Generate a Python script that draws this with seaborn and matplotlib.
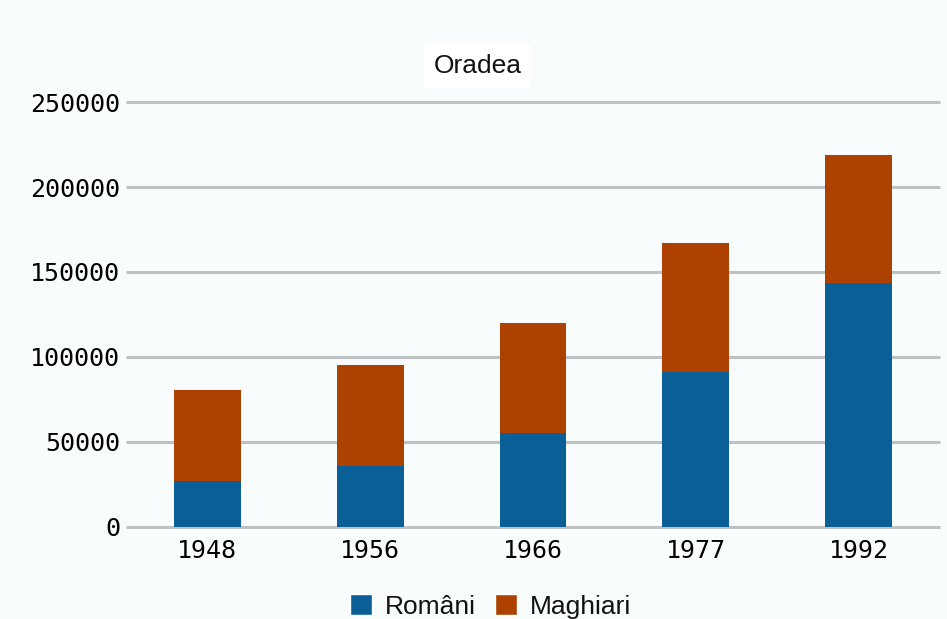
import pandas as pd
import matplotlib.pyplot as plt
import seaborn as sns
from matplotlib.patches import Patch

# Values
years = ['1948', '1956', '1966', '1977', '1992']
romani = [26700, 35800, 55400, 91300, 143300]
maghiari = [53600, 59500, 64500, 75800, 75800]

df = pd.DataFrame({'An': years, 'Români': romani, 'Maghiari': maghiari})
df['Total'] = df['Români'] + df['Maghiari']

blue = '#0a5f96'
orange = '#ad4200'
bg = '#f9fcfd'

sns.set_theme(style='white')
plt.rcParams['font.family'] = ['Liberation Sans', 'DejaVu Sans']

fig = plt.figure(figsize=(9.47, 6.19), dpi=100, facecolor=bg)
ax = fig.add_axes([0.133, 0.149, 0.8596, 0.686])
ax.set_facecolor(bg)

# stacked: total in orange, then Români on top of it
sns.barplot(data=df, x='An', y='Total', color=orange, width=0.41,
            saturation=1, linewidth=0, ax=ax, zorder=3)
sns.barplot(data=df, x='An', y='Români', color=blue, width=0.41,
            saturation=1, linewidth=0, ax=ax, zorder=4)

ax.set_ylim(0, 250000)
ax.set_xlim(-0.5, 4.5)
ax.set_yticks(range(0, 250001, 50000))
for v in range(0, 250001, 50000):
    ax.axhline(v, color='#bfc2c4', linewidth=2.2, zorder=1, clip_on=False,
               solid_capstyle='butt')
for s in ax.spines.values():
    s.set_visible(False)
ax.tick_params(axis='y', length=0, pad=4)
ax.tick_params(axis='x', length=0, pad=9)
for lab in ax.get_yticklabels() + ax.get_xticklabels():
    lab.set_family('DejaVu Sans Mono')
    lab.set_fontsize(18)
    lab.set_color('#000000')
ax.set_xlabel('')
ax.set_ylabel('')

fig.text(0.504, 0.893, 'Oradea', fontsize=19, color='#111111',
         ha='center', va='center',
         bbox=dict(facecolor='white', edgecolor='none', pad=7))

handles = [Patch(facecolor=blue, label='Români'),
           Patch(facecolor=orange, label='Maghiari')]
fig.legend(handles=handles, loc='center', bbox_to_anchor=(0.518, 0.02),
           ncol=2, frameon=False, fontsize=19, handlelength=0.85,
           handleheight=0.85, handletextpad=0.5, columnspacing=0.7,
           labelcolor='#111111')

fig.savefig('out.png', dpi=100, facecolor=bg)
